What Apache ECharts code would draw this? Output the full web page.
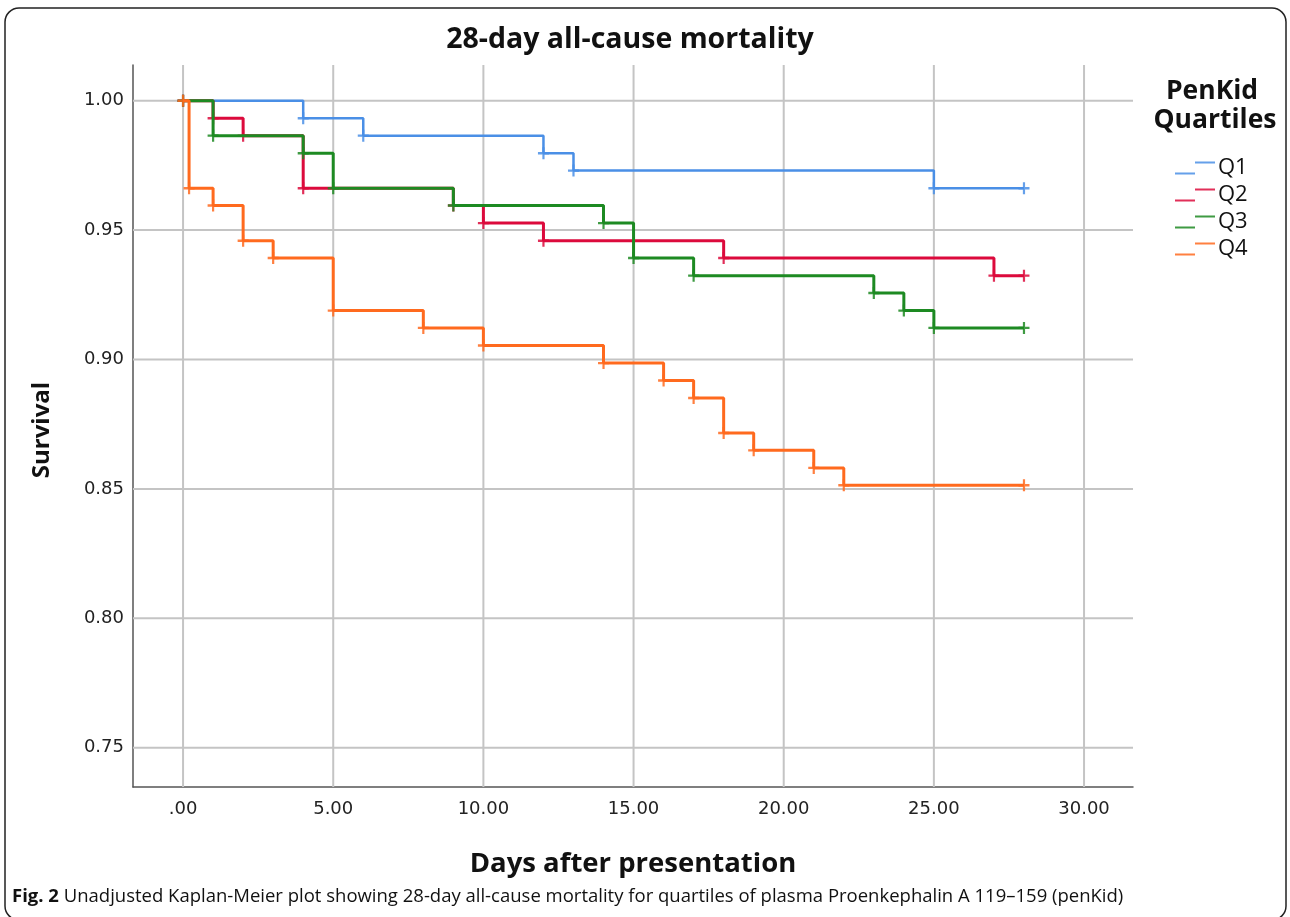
<!DOCTYPE html>
<html>
<head>
<meta charset="utf-8">
<script src="https://cdn.jsdelivr.net/npm/echarts@6/dist/echarts.min.js"></script>
<style>html,body{margin:0;padding:0;background:#fff;}#c{width:1290px;height:917px;}</style>
</head>
<body>
<div id="c"></div>
<script>
// Kaplan-Meier step data (days, survival)
const q1Days = [0, 4, 6, 12, 13, 25, 28];
const q1Surv = [1, 0.9932, 0.9865, 0.9797, 0.9730, 0.9662, 0.9662];
const q2Days = [0, 1, 2, 4, 9, 10, 12, 18, 27, 28];
const q2Surv = [1, 0.9932, 0.9865, 0.9662, 0.9595, 0.9527, 0.9459, 0.9392, 0.9324, 0.9324];
const q3Days = [0, 1, 4, 5, 9, 14, 15, 17, 23, 24, 25, 28];
const q3Surv = [1, 0.9865, 0.9797, 0.9662, 0.9595, 0.9527, 0.9392, 0.9324, 0.9257, 0.9189, 0.9122, 0.9122];
const q4Days = [0, 0.2, 1, 2, 3, 5, 8, 10, 14, 16, 17, 18, 19, 21, 22, 28];
const q4Surv = [1, 0.9662, 0.9595, 0.9459, 0.9392, 0.9189, 0.9122, 0.9054, 0.8986, 0.8919, 0.8851, 0.8716, 0.8649, 0.8581, 0.8514, 0.8514];
const seriesNames = ['Q1', 'Q2', 'Q3', 'Q4'];
const xTicks = [0, 5, 10, 15, 20, 25, 30];
const yTicks = [0.75, 0.80, 0.85, 0.90, 0.95, 1.00];

const colors = ['#4a8fe6', '#dc0a3c', '#1d8a22', '#ff6a1e'];
const widths = [2.5, 3, 3, 3];
const plus = 'path://M4,0H6V10H4Z M0,4H10V6H0Z';

const zip = (a, b) => a.map((v, i) => [v, b[i]]);
const allData = [zip(q1Days, q1Surv), zip(q2Days, q2Surv), zip(q3Days, q3Surv), zip(q4Days, q4Surv)];

const chart = echarts.init(document.getElementById('c'), null, {renderer: 'canvas'});
chart.setOption({
  backgroundColor: '#fff',
  animation: false,
  grid: {left: 133, right: 157, top: 65, bottom: 130, containLabel: false},
  xAxis: {
    type: 'value', min: -1.667, max: 31.63,
    name: 'Days after presentation', nameLocation: 'middle', nameGap: 63,
    nameTextStyle: {fontFamily: 'Open Sans', fontWeight: 'bold', fontSize: 27.5, color: '#111'},
    axisLine: {show: true, onZero: false, lineStyle: {color: '#555', width: 1.5}},
    axisTick: {show: false},
    splitLine: {show: false},
    axisLabel: {
      margin: 13, fontFamily: 'DejaVu Sans', fontSize: 18, color: '#222',
      customValues: xTicks,
      formatter: v => v === 0 ? '.00' : v.toFixed(2)
    }
  },
  yAxis: {
    type: 'value', min: 0.7348, max: 1.0138,
    axisLine: {show: true, onZero: false, lineStyle: {color: '#555', width: 1.5}},
    axisTick: {show: false},
    splitLine: {show: false},
    axisLabel: {
      margin: 9, fontFamily: 'DejaVu Sans', fontSize: 18, color: '#222',
      customValues: yTicks,
      formatter: v => v.toFixed(2)
    }
  },
  legend: {
    orient: 'vertical', left: 1170, top: 152, itemGap: 5,
    itemWidth: 42, itemHeight: 13,
    data: seriesNames.map((n, i) => ({name: n, icon: 'path://M0,11H20V13H0Z M20,0H40V2H20Z', itemStyle: {color: colors[i]}})),
    textStyle: {fontFamily: 'Open Sans', fontSize: 22, color: '#111', padding: [0, 0, 0, -3]}
  },
  series: [
    {
      type: 'custom', silent: true, z: 1,
      renderItem: (params, api) => {
        const cs = params.coordSys;
        const children = [];
        xTicks.forEach(t => {
          const p = api.coord([t, 0.8]);
          children.push({type: 'line', shape: {x1: p[0], y1: cs.y, x2: p[0], y2: cs.y + cs.height}, style: {stroke: '#c4c4c4', lineWidth: 2}});
        });
        yTicks.forEach(t => {
          const p = api.coord([0, t]);
          children.push({type: 'line', shape: {x1: cs.x, y1: p[1], x2: cs.x + cs.width, y2: p[1]}, style: {stroke: '#c4c4c4', lineWidth: 2}});
        });
        return {type: 'group', children};
      },
      data: [[0, 0]]
    },
    ...allData.map((d, i) => ({
      name: seriesNames[i], type: 'line', step: 'end', data: d, z: 2 + i,
      lineStyle: {color: colors[i], width: widths[i]},
      itemStyle: {color: colors[i], opacity: 0.85},
      symbol: plus, symbolSize: [11, 12], showSymbol: true, showAllSymbol: true
    }))
  ],
  graphic: [
    {type: 'rect', shape: {x: 5, y: 8, width: 1281, height: 912, r: 14}, style: {fill: 'none', stroke: '#222', lineWidth: 1.5}, silent: true},
    {type: 'text', x: 630, y: 40, style: {text: '28-day all-cause mortality', font: 'bold 28.5px "Open Sans"', fill: '#111', textAlign: 'center', textVerticalAlign: 'middle'}},
    {type: 'text', x: 42, y: 430, rotation: Math.PI / 2, style: {text: 'Survival', font: 'bold 24px "Open Sans"', fill: '#111', textAlign: 'center', textVerticalAlign: 'middle'}},
    {type: 'text', x: 1212, y: 91, style: {text: 'PenKid', font: 'bold 26.5px "Open Sans"', fill: '#111', textAlign: 'center', textVerticalAlign: 'middle'}},
    {type: 'text', x: 1215, y: 120, style: {text: 'Quartiles', font: 'bold 26.5px "Open Sans"', fill: '#111', textAlign: 'center', textVerticalAlign: 'middle'}},
    {type: 'text', x: 12, y: 897, style: {
      text: '{b|Fig. 2} Unadjusted Kaplan-Meier plot showing 28-day all-cause mortality for quartiles of plasma Proenkephalin A 119–159 (penKid)',
      textVerticalAlign: 'middle',
      rich: {b: {fontFamily: 'Open Sans', fontWeight: 'bold', fontSize: 18.5, fill: '#111'}},
      font: '18.5px "Open Sans"', fill: '#111'
    }}
  ]
});
</script>
</body>
</html>
